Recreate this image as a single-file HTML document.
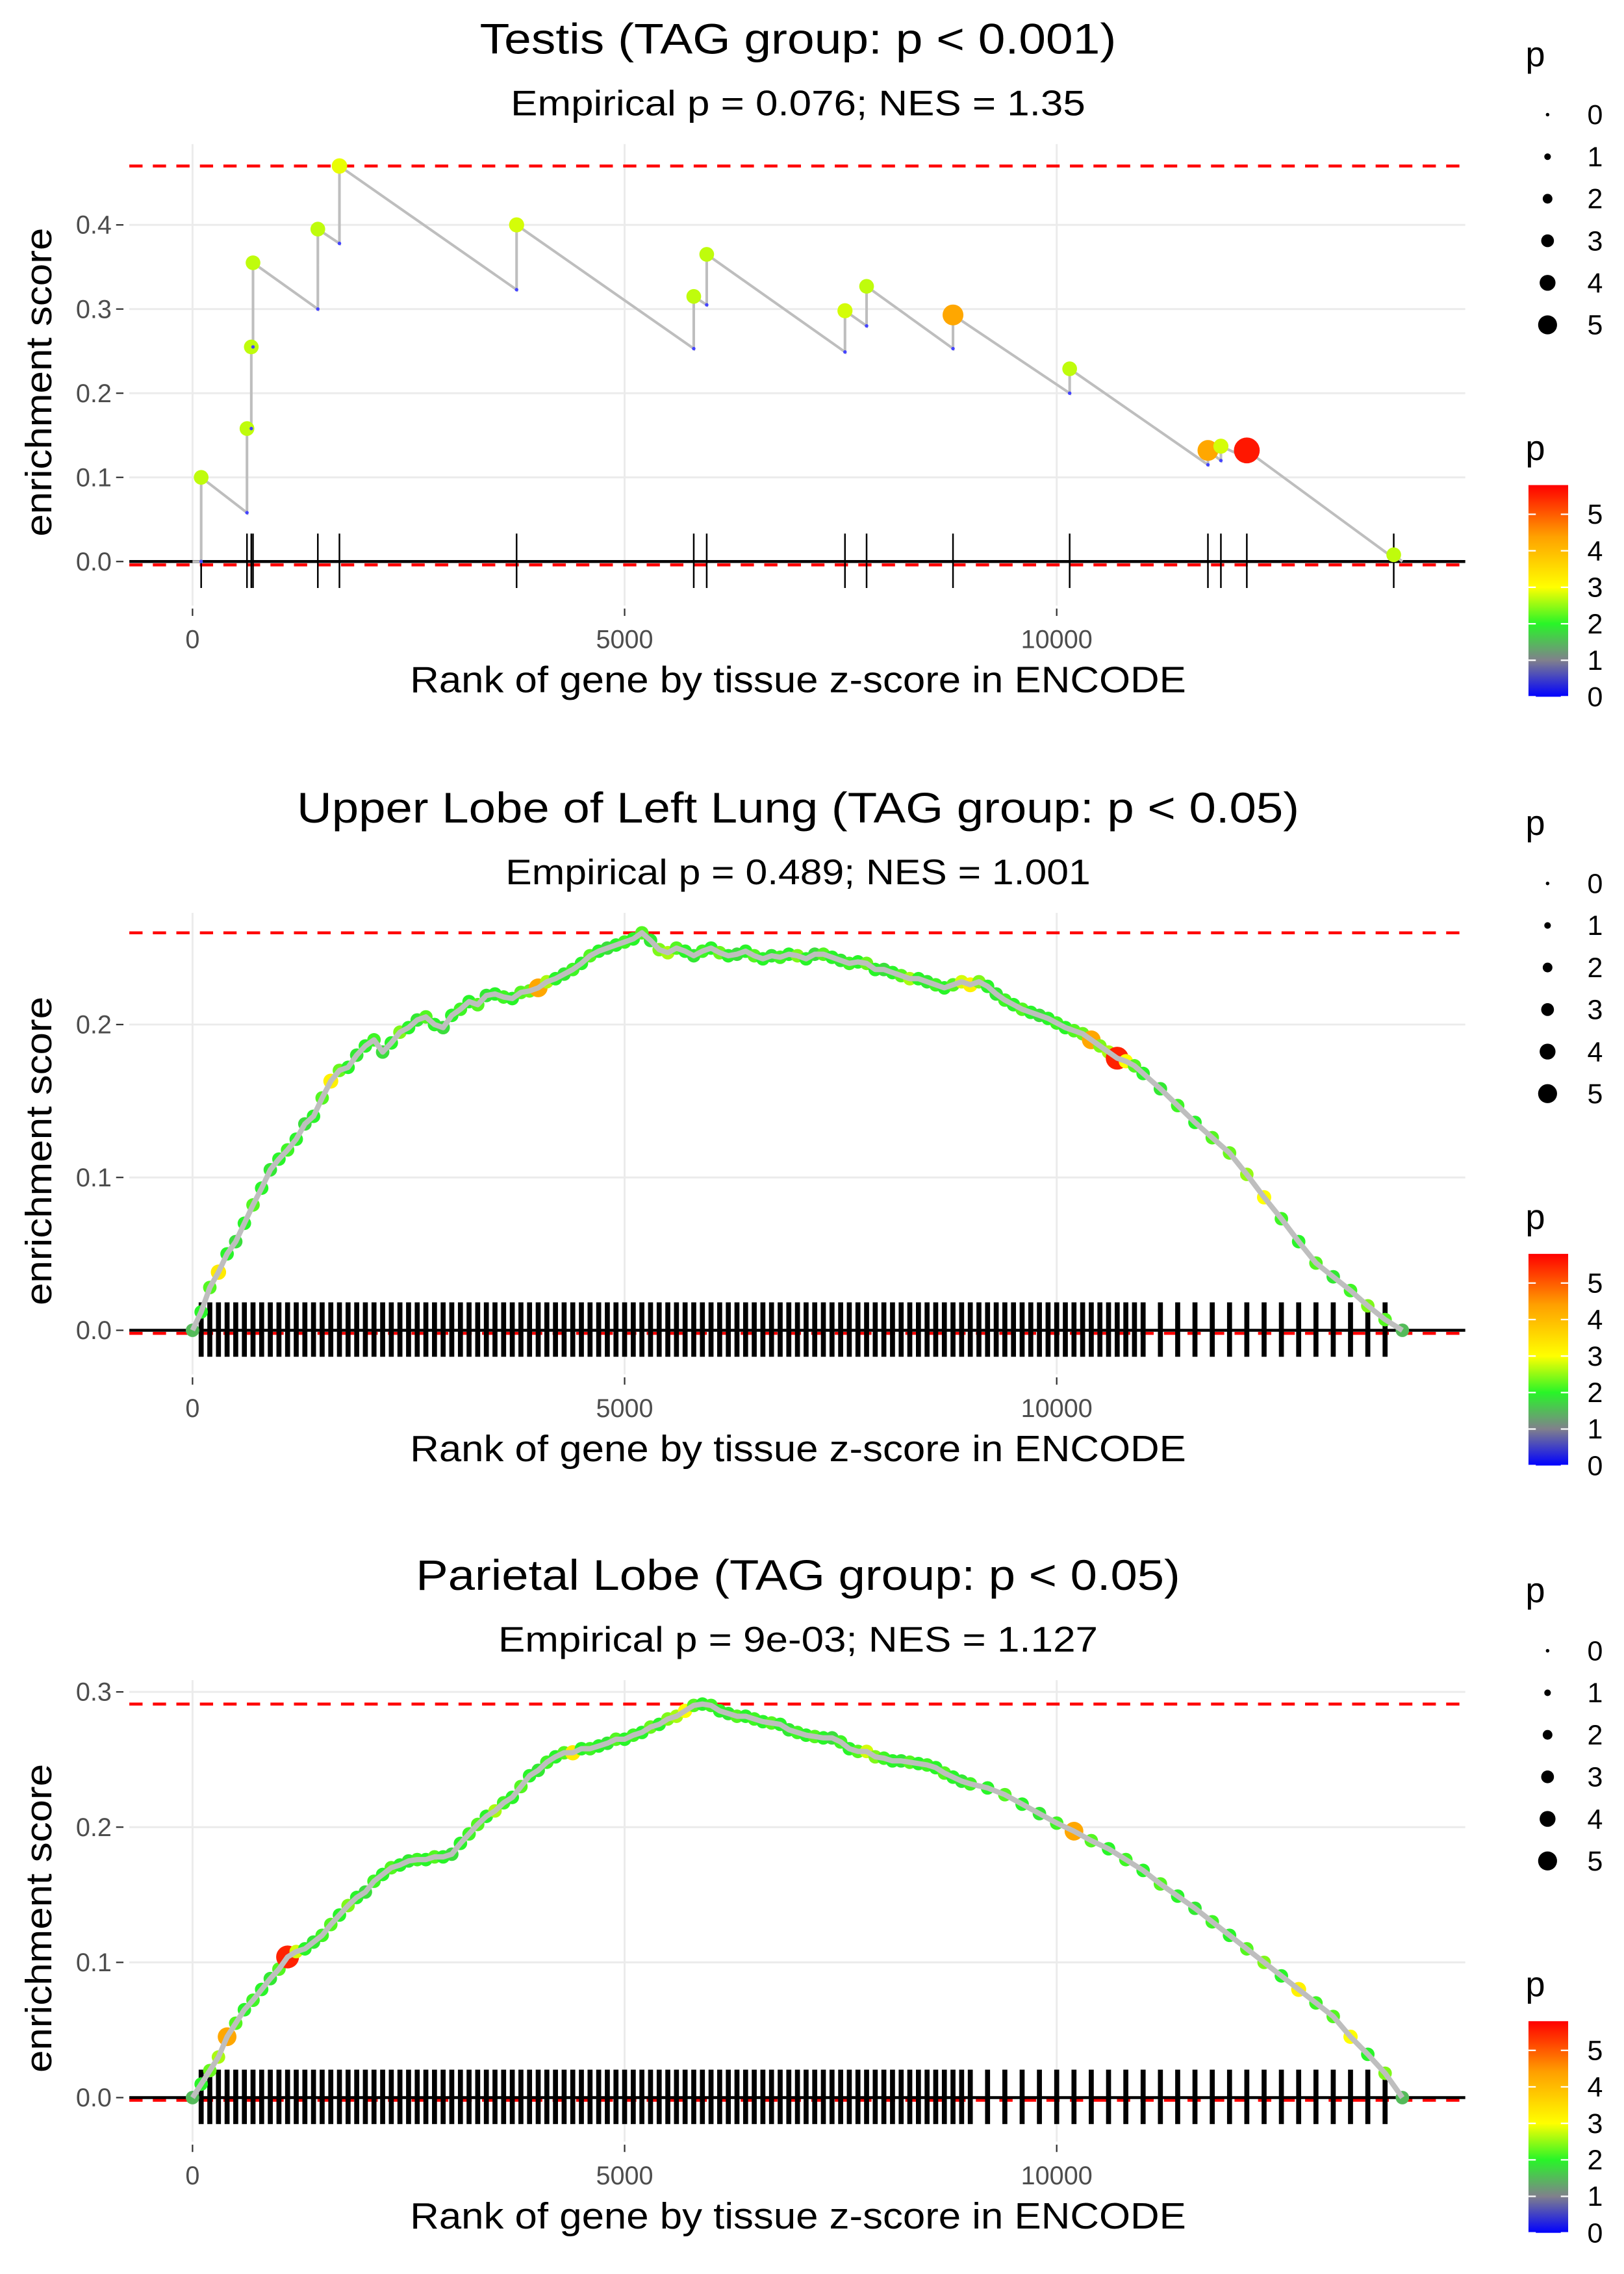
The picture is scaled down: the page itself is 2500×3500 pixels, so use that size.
<!DOCTYPE html>
<html><head><meta charset="utf-8"><style>
html,body{margin:0;padding:0;background:#fff;}
svg{display:block;}
text{font-family:"Liberation Sans",Arial,sans-serif;}
</style></head><body>
<svg id="chart" xmlns="http://www.w3.org/2000/svg" width="2500" height="3500" viewBox="0 0 1105 1547" preserveAspectRatio="none"></svg>
<script>
// ---------- Panel 1: Testis ----------
const testisHitRank = [100,630,680,700,1450,1700,3750,5800,5950,7550,7800,8800,10150,11750,11900,12200,13900];
const testisEsBefore = [0,0.058,0.158,0.255,0.30,0.378,0.323,0.253,0.305,0.249,0.28,0.253,0.2,0.115,0.12,0.123,0.004];
const testisEsAfter = [0.1,0.158,0.255,0.355,0.395,0.47,0.40,0.315,0.365,0.298,0.327,0.293,0.229,0.132,0.137,0.132,0.008];
const testisP = [2.7,2.7,2.7,2.7,2.7,2.9,2.8,2.7,2.7,2.8,2.7,4.3,2.7,4.3,2.8,5.6,2.7];
const testisYTicks = [0,0.1,0.2,0.3,0.4];

// ---------- Panel 2: Upper Lobe of Left Lung ----------
const lungRank = [0,100,200,300,400,500,600,700,800,900,1000,1100,1200,1300,1400,1500,1600,1700,1800,1900,2000,2100,2200,2300,2400,2500,2600,2700,2800,2900,3000,3100,3200,3300,3400,3500,3600,3700,3800,3900,4000,4100,4200,4300,4400,4500,4600,4700,4800,4900,5000,5100,5200,5300,5400,5500,5600,5700,5800,5900,6000,6100,6200,6300,6400,6500,6600,6700,6800,6900,7000,7100,7200,7300,7400,7500,7600,7700,7800,7900,8000,8100,8200,8300,8400,8500,8600,8700,8800,8900,9000,9100,9200,9300,9400,9500,9600,9700,9800,9900,10000,10100,10200,10300,10400,10500,10600,10700,10800,10900,11000,11200,11400,11600,11800,12000,12200,12400,12600,12800,13000,13200,13400,13600,13800,14000];
const lungEs = [0,.012,.028,.038,.05,.058,.07,.082,.093,.105,.112,.118,.125,.135,.14,.152,.163,.17,.172,.18,.186,.19,.182,.188,.195,.198,.203,.205,.2,.198,.206,.21,.215,.213,.219,.22,.218,.217,.221,.222,.224,.228,.23,.233,.236,.24,.245,.248,.25,.252,.254,.256,.26,.255,.249,.247,.25,.248,.245,.248,.25,.247,.245,.246,.248,.245,.243,.245,.244,.246,.245,.243,.246,.246,.244,.242,.24,.241,.24,.236,.236,.234,.232,.23,.23,.228,.226,.224,.226,.228,.226,.228,.225,.22,.216,.213,.21,.208,.206,.204,.201,.198,.196,.194,.19,.186,.182,.178,.176,.173,.168,.158,.147,.136,.126,.116,.102,.087,.073,.058,.044,.035,.026,.016,.007,0];
const lungP = [1.5,2,2.2,3.3,2,1.8,2,2.2,2,1.9,2,2.1,2,1.8,2,2.2,3.2,2.3,2,1.9,2,2.1,1.8,2,2.4,2,1.9,2.2,2,1.8,2,2.1,2,2.2,1.9,2,2.1,2,2.2,2.3,4.3,2.6,2,1.9,2.1,2,2.2,2,1.8,2,2.1,2,2.2,1.9,2.4,2.6,2.2,2,1.9,2.1,2,2.3,2,1.8,2,2.2,2,1.9,2.1,2,2.4,2,1.8,2.2,2,1.9,2.1,2,2.3,2,1.8,2,2.2,2.6,2,1.9,2.1,2,2.2,2.8,3.2,2.4,2,1.9,2.1,2,2.2,2,1.8,2,2.1,2,2.2,2.3,4.3,2.4,2.6,5.5,3,2.2,2,1.9,2.1,2,2.2,2.3,2.5,3,2.1,2,2.2,1.9,2.1,2.4,2.2,1.5];
const lungYTicks = [0,0.1,0.2];

// ---------- Panel 3: Parietal Lobe ----------
const parRank = [0,100,200,300,400,500,600,700,800,900,1000,1100,1200,1300,1400,1500,1600,1700,1800,1900,2000,2100,2200,2300,2400,2500,2600,2700,2800,2900,3000,3100,3200,3300,3400,3500,3600,3700,3800,3900,4000,4100,4200,4300,4400,4500,4600,4700,4800,4900,5000,5100,5200,5300,5400,5500,5600,5700,5800,5900,6000,6100,6200,6300,6400,6500,6600,6700,6800,6900,7000,7100,7200,7300,7400,7500,7600,7700,7800,7900,8000,8100,8200,8300,8400,8500,8600,8700,8800,8900,9000,9200,9400,9600,9800,10000,10200,10400,10600,10800,11000,11200,11400,11600,11800,12000,12200,12400,12600,12800,13000,13200,13400,13600,13800,14000];
const parEs = [0,.01,.02,.03,.045,.055,.065,.072,.08,.088,.095,.104,.108,.11,.115,.12,.128,.135,.142,.148,.152,.16,.165,.17,.172,.175,.176,.176,.178,.178,.18,.188,.195,.202,.208,.212,.218,.222,.23,.238,.242,.248,.252,.255,.255,.258,.258,.26,.262,.265,.265,.268,.27,.274,.276,.28,.282,.286,.29,.291,.29,.286,.284,.282,.282,.28,.278,.277,.276,.272,.27,.268,.267,.266,.266,.263,.258,.256,.256,.252,.251,.249,.249,.248,.247,.246,.244,.24,.237,.234,.232,.229,.224,.217,.21,.203,.197,.19,.184,.176,.168,.158,.149,.14,.13,.12,.11,.1,.09,.08,.07,.06,.045,.032,.018,0];
const parP = [1.5,2,2.3,2.6,4.3,2.2,2,2.1,2,1.9,2.2,5.5,2.8,2,1.9,2.1,2.2,2,2.4,2,1.8,2.1,2,2.2,2,1.9,2.1,2,2.2,2,1.8,2,2.1,2.2,2,2.6,2.1,2,2.2,2,1.9,2.1,2,2.2,3.3,2,2.1,2,1.9,2.2,2,2.1,2,2.3,2,2.4,2.6,3,2.2,2,2.1,2,1.9,2.2,2,2.1,2,2.2,2,1.9,2.1,2,2.2,2,1.8,2.1,2,2.2,2.8,2.4,2.1,2,1.9,2.2,2,2.1,2,2.2,2,1.9,2.1,2,2.2,2,1.9,2.1,4.3,2.2,2,2.1,2,2.2,2,1.9,2.1,2,2.2,2.4,2,3.2,2.1,2.2,3.0,2,2.4,1.5];
const parYTicks = [0,0.1,0.2,0.3];

const xTicks = [0,5000,10000];
const legendSizes = [0,1,2,3,4,5];
const colorbarTicks = [0,1,2,3,4,5];

const NS = "http://www.w3.org/2000/svg";
const svg = document.getElementById('chart');
function mk(tag, attrs, parent){
  const e = document.createElementNS(NS, tag);
  for (const k in attrs) e.setAttribute(k, attrs[k]);
  (parent||svg).appendChild(e);
  return e;
}
const stops = [[0,[0,0,255]],[1,[128,128,140]],[2,[40,245,40]],[3,[255,255,0]],[4.4,[255,160,0]],[5.8,[255,0,0]]];
function colorFor(p){
  if (p<=stops[0][0]) return 'rgb(0,0,255)';
  for (let i=1;i<stops.length;i++){
    if (p<=stops[i][0]){
      const a=stops[i-1], b=stops[i], t=(p-a[0])/(b[0]-a[0]);
      const c=a[1].map((v,j)=>Math.round(v+(b[1][j]-v)*t));
      return 'rgb('+c.join(',')+')';
    }
  }
  return 'rgb(255,0,0)';
}
function radiusFor(p){ return 1.5 + 1.3*p; }
const xL = 88, xR = 997;
function xScale(r){ return 131 + r*0.0588; }
function txt(parent, attrs, s, name, len){
  const t = mk('text', attrs, parent);
  t.textContent = s;
  if (len){ t.setAttribute('textLength', len); t.setAttribute('lengthAdjust', 'spacingAndGlyphs'); }
  
  
  return t;
}

function drawPanel(cfg){
  const g = mk('g', {});
  
  
  const y = v => cfg.y0 - v*cfg.k;
  txt(g, {x:543, y:cfg.titleY, 'text-anchor':'middle', 'font-size':29, fill:'#000'}, cfg.title, 'plot-title', cfg.titleLen);
  txt(g, {x:543, y:cfg.titleY+42, 'text-anchor':'middle', 'font-size':24, fill:'#000'}, cfg.subtitle, 'plot-subtitle', cfg.subLen);
  xTicks.forEach(v=>{
    const l = mk('line', {x1:xScale(v), x2:xScale(v), y1:cfg.top, y2:cfg.bottom, stroke:'#ebebeb', 'stroke-width':1.3}, g);
    
    
  });
  cfg.yTicks.forEach(v=>{
    const l = mk('line', {x1:xL, x2:xR, y1:y(v), y2:y(v), stroke:'#ebebeb', 'stroke-width':1.3}, g);
    
    
    const tk = mk('line', {x1:79, x2:84, y1:y(v), y2:y(v), stroke:'#333', 'stroke-width':1}, g);
    
    
    txt(g, {x:76, y:y(v)+6, 'text-anchor':'end', 'font-size':17.5, fill:'#4d4d4d'}, v.toFixed(1), 'y-tick-label');
  });
  xTicks.forEach(v=>{
    const tk = mk('line', {x1:xScale(v), x2:xScale(v), y1:cfg.bottom+2, y2:cfg.bottom+7, stroke:'#333', 'stroke-width':1}, g);
    
    
    txt(g, {x:xScale(v), y:cfg.bottom+29, 'text-anchor':'middle', 'font-size':17.5, fill:'#4d4d4d'}, String(v), 'x-tick-label');
  });
  txt(g, {x:543, y:cfg.bottom+59, 'text-anchor':'middle', 'font-size':25, fill:'#000'}, 'Rank of gene by tissue z-score in ENCODE', 'x-axis-title', 528);
  const ym = (cfg.top+cfg.bottom)/2 + 5;
  txt(g, {x:0, y:0, 'text-anchor':'middle', 'font-size':25, fill:'#000', transform:'translate(35,'+ym+') rotate(-90)'}, 'enrichment score', 'y-axis-title', 210);
  [cfg.maxEs, cfg.minEs].forEach(v=>{
    const l = mk('line', {x1:xL, x2:xR, y1:y(v), y2:y(v), stroke:'#ff0000', 'stroke-width':2, 'stroke-dasharray':'9,7'}, g);
    
    
  });
  cfg.rug.forEach(r=>{
    const l = mk('line', {x1:xScale(r), x2:xScale(r), y1:cfg.y0-19, y2:cfg.y0+18, stroke:'#000', 'stroke-width':cfg.rugW}, g);
    
    
  });
  const z = mk('line', {x1:xL, x2:xR, y1:cfg.y0, y2:cfg.y0, stroke:'#000', 'stroke-width':2}, g);
  
  
  return {g, y};
}

function drawLegend(topY){
  const g = mk('g', {});
  
  
  txt(g, {x:1038, y:topY+8, 'font-size':24, fill:'#000'}, 'p', 'size-legend-title');
  legendSizes.forEach((s,i)=>{
    const cy = topY+41+i*28.6;
    const c = mk('circle', {cx:1053, cy:cy, r:1.2+s*1.05, fill:'#000'}, g);
    
    
    txt(g, {x:1080, y:cy+6.5, 'font-size':19, fill:'#000'}, String(s), 'size-legend-label');
  });
  txt(g, {x:1038, y:topY+276, 'font-size':24, fill:'#000'}, 'p', 'color-legend-title');
  const barTop = topY+293, barBot = topY+437, pMax = 5.8;
  const gid = 'grad'+Math.round(topY);
  const defs = mk('defs', {}, g);
  const lg = mk('linearGradient', {id:gid, x1:0, y1:1, x2:0, y2:0}, defs);
  stops.forEach(s=>{
    mk('stop', {offset:(s[0]/pMax), 'stop-color':'rgb('+s[1].join(',')+')'}, lg);
  });
  const bar = mk('rect', {x:1040, y:barTop, width:27, height:barBot-barTop, fill:'url(#'+gid+')'}, g);
  
  
  colorbarTicks.forEach(v=>{
    const yy = barBot - v/pMax*(barBot-barTop);
    mk('line', {x1:1040, x2:1045, y1:yy, y2:yy, stroke:'#fff', 'stroke-width':1}, g);
    mk('line', {x1:1062, x2:1067, y1:yy, y2:yy, stroke:'#fff', 'stroke-width':1}, g);
    txt(g, {x:1080, y:yy+6.5, 'font-size':19, fill:'#000'}, String(v), 'colorbar-label');
  });
}

// Panel 1
(function(){
  const {g, y} = drawPanel({name:'testis-panel', title:'Testis (TAG group: p < 0.001)', subtitle:'Empirical p = 0.076; NES = 1.35',
    titleLen:433, subLen:391,
    titleY:36.5, top:98, bottom:412, y0:382, k:572.5, yTicks:testisYTicks,
    maxEs:Math.max(...testisEsAfter), minEs:-0.004, rug:testisHitRank, rugW:1.1});
  let pts = [[xScale(0), y(0)]];
  testisHitRank.forEach((r,i)=>{ pts.push([xScale(r), y(testisEsBefore[i])]); pts.push([xScale(r), y(testisEsAfter[i])]); });
  pts.push([xScale(14000), y(0)]);
  const pl = mk('polyline', {points:pts.map(p=>p.join(',')).join(' '), fill:'none', stroke:'#bebebe', 'stroke-width':1.8}, g);
  
  
  testisHitRank.forEach((r,i)=>{
    const d = mk('circle', {cx:xScale(r), cy:y(testisEsBefore[i]), r:1.2, fill:'#4444ff'}, g);
    
    
    const c = mk('circle', {cx:xScale(r), cy:y(testisEsAfter[i]), r:radiusFor(testisP[i]), fill:colorFor(testisP[i])}, g);
    
    
  });
})();
drawLegend(37);

function densePanel(opts, ranks, es, ps){
  const {g, y} = drawPanel(Object.assign({}, opts, {maxEs:Math.max(...es), minEs:-0.002, rug:ranks.slice(1,-1), rugW:3.4}));
  ranks.forEach((r,i)=>{
    const c = mk('circle', {cx:xScale(r), cy:y(es[i]), r:Math.max(4.6, radiusFor(ps[i])*0.9), fill:colorFor(ps[i])}, g);
    
    
  });
  const pl = mk('polyline', {points:ranks.map((r,i)=>xScale(r)+','+y(es[i])).join(' '), fill:'none', stroke:'#bebebe', 'stroke-width':3.6, 'stroke-linejoin':'round'}, g);
  
  
}
densePanel({name:'lung-panel', title:'Upper Lobe of Left Lung (TAG group: p < 0.05)', subtitle:'Empirical p = 0.489; NES = 1.001',
  titleLen:682, subLen:398,
  titleY:559.5, top:621, bottom:935, y0:905, k:1040, yTicks:lungYTicks}, lungRank, lungEs, lungP);
drawLegend(560);
densePanel({name:'parietal-panel', title:'Parietal Lobe (TAG group: p < 0.05)', subtitle:'Empirical p = 9e-03; NES = 1.127',
  titleLen:520, subLen:408,
  titleY:1081.5, top:1143, bottom:1457, y0:1427, k:920, yTicks:parYTicks}, parRank, parEs, parP);
drawLegend(1082);
</script>
</body></html>
